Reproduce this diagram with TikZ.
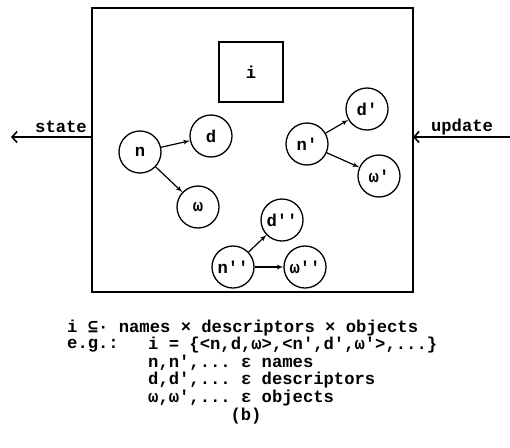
\documentclass[tikz,border=0pt]{standalone}
\usepackage{fontspec}
\setmonofont{Liberation Mono}
\newfontfamily\symfont{DejaVu Sans Mono}
\usetikzlibrary{arrows}
\usetikzlibrary{arrows.meta}
\tikzset{
	edge/.style={->,> = latex', line width=1.2pt},
	port/.style={->,> = {Straight Barb[length=5pt,width=11pt]}, line width=1.6pt},
	txt/.style={font=\ttfamily\bfseries\fontsize{17.2}{19}\selectfont, inner sep=0pt}
}
\tikzset{
	obj/.style={circle, draw, line width=1.3pt, minimum size=42pt, inner sep=0pt, txt}
}

\begin{document}
\begin{tikzpicture}[x=1pt, y=-1pt]
\useasboundingbox (0,0) rectangle (510,447);

\node[draw, line width=2.2pt, minimum width=321pt, minimum height=284pt] (store) at (252.5,150) {};
\node[draw, line width=1.6pt, minimum width=64pt, minimum height=60pt, txt] (info) at (251,72) {i};

\coordinate (sin) at (92,137);
\coordinate (sout) at (11,137);
\coordinate (uin) at (510,137);
\coordinate (uout) at (413,137);
\draw[port] (sin) to (sout);
\draw[port] (uin) to (uout);
\node[txt] (state) at (61,127) {state};
\node[txt] (update) at (462,127) {update};

\node[obj] (n) at (140,152) {n};
\node[obj] (d) at (211,136) {d};
\node[obj] (w) at (198,207) {ω};
\node[obj] (n1) at (307,144) {n'};
\node[obj] (d1) at (367,109) {d'};
\node[obj] (w1) at (379,176) {ω'};
\node[obj] (n2) at (233,267) {n''};
\node[obj] (d2) at (282,220) {d''};
\node[obj] (w2) at (305,267) {ω''};

\draw[edge] (n) to (d);
\draw[edge] (n) to (w);
\draw[edge] (n1) to (d1);
\draw[edge] (n1) to (w1);
\draw[edge] (n2) to (d2);
\draw[edge] (n2) to (w2);

\node[txt, anchor=west] (l1) at (67,328) {i {\symfont ⊆}· names × descriptors × objects};
\node[txt, anchor=west] (eg) at (67,345.5) {e.g.:};
\node[txt, anchor=west] (l2) at (148,345.5) {i = \{<n,d,ω>,<n',d',ω'>,...\}};
\node[txt, anchor=west] (l3) at (148,363) {n,n',... ε names};
\node[txt, anchor=west] (l4) at (148,380.5) {d,d',... ε descriptors};
\node[txt, anchor=west] (l5) at (148,398) {ω,ω',... ε objects};
\node[txt] (cap) at (246,416) {(b)};
\end{tikzpicture}
\end{document}
